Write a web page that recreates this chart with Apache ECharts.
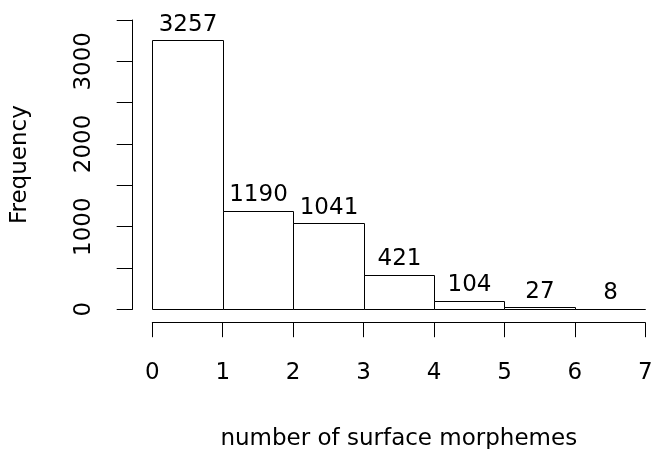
<!DOCTYPE html>
<html>
<head>
<meta charset="utf-8">
<script src="https://cdn.jsdelivr.net/npm/echarts@6/dist/echarts.min.js"></script>
<style>html,body{margin:0;padding:0;background:#fff;}#c{width:652px;height:449px;}</style>
</head>
<body>
<div id="c"></div>
<script>
const binEdges = [0, 1, 2, 3, 4, 5, 6, 7];
const counts = [3257, 1190, 1041, 421, 104, 27, 8];
const xTicks = [0, 1, 2, 3, 4, 5, 6, 7];
const yLabels = [0, 1000, 2000, 3000];
const xTitle = 'number of surface morphemes';
const yTitle = 'Frequency';

const FONT = '"DejaVu Sans", sans-serif';
const data = counts.map((c, i) => [binEdges[i], binEdges[i + 1], c]);

const chart = echarts.init(document.getElementById('c'), null, {renderer: 'canvas'});
chart.setOption({
  animation: false,
  backgroundColor: '#fff',
  grid: {left: 152.3, right: 6.7, top: 20, bottom: 139.7, containLabel: false, outerBoundsMode: 'none'},
  xAxis: {
    type: 'value', min: 0, max: 7, interval: 1, offset: 13.4,
    name: xTitle, nameLocation: 'middle', nameGap: 105,
    nameTextStyle: {fontFamily: FONT, fontSize: 23, color: '#000'},
    axisLine: {show: true, onZero: false, lineStyle: {color: '#000', width: 1}},
    axisTick: {show: true, length: 14.5, lineStyle: {color: '#000', width: 1}},
    axisLabel: {margin: 39, fontFamily: FONT, fontSize: 23, color: '#000',
      formatter: v => xTicks.indexOf(v) >= 0 ? String(v) : ''},
    splitLine: {show: false}
  },
  yAxis: {
    type: 'value', min: 0, max: 3500, interval: 500, offset: 19.6,
    name: yTitle, nameLocation: 'middle', nameGap: 101,
    nameTextStyle: {fontFamily: FONT, fontSize: 23, color: '#000'},
    axisLine: {show: true, onZero: false, lineStyle: {color: '#000', width: 1}},
    axisTick: {show: true, length: 16, lineStyle: {color: '#000', width: 1}},
    axisLabel: {margin: 37, rotate: 90, fontFamily: FONT, fontSize: 23, color: '#000',
      formatter: v => yLabels.indexOf(v) >= 0 ? String(v) : ''},
    splitLine: {show: false}
  },
  series: [{
    type: 'custom',
    clip: false,
    data: data,
    encode: {x: [0, 1], y: 2},
    renderItem: function (params, api) {
      const x0 = api.value(0), x1 = api.value(1), v = api.value(2);
      const p0 = api.coord([x0, 0]);
      const p1 = api.coord([x1, v]);
      const left = Math.round(p0[0]) + 0.5, right = Math.round(p1[0]) + 0.5;
      const top = Math.round(p1[1]) + 0.5, bottom = Math.round(p0[1]) + 0.5;
      return {
        type: 'group',
        children: [
          {type: 'rect', shape: {x: left, y: top, width: right - left, height: bottom - top},
           style: {fill: '#fff', stroke: '#000', lineWidth: 1}},
          {type: 'text', x: (left + right) / 2, y: p1[1] - 4,
           style: {text: String(v), font: '23px ' + FONT, fill: '#000', align: 'center', verticalAlign: 'bottom'}}
        ]
      };
    }
  }]
});
</script>
</body>
</html>
